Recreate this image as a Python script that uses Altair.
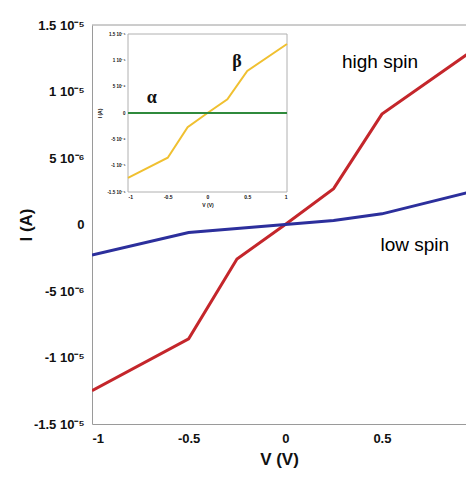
import altair as alt
import pandas as pd

# ---------------- data ----------------
V = [-1, -0.5, -0.25, 0, 0.25, 0.5, 1]
high_spin = [-1.25e-5, -0.86e-5, -0.26e-5, 0.0, 0.27e-5, 0.83e-5, 1.34e-5]
low_spin = [-0.23e-5, -0.06e-5, -0.03e-5, 0.0, 0.03e-5, 0.08e-5, 0.26e-5]

inset_beta = [-1.23e-5, -0.85e-5, -0.27e-5, 0.0, 0.26e-5, 0.80e-5, 1.31e-5]
inset_alpha = [0.0, 0.0, 0.0, 0.0, 0.0, 0.0, 0.0]

y_ticks = [-1.5e-5, -1e-5, -5e-6, 0, 5e-6, 1e-5, 1.5e-5]
y_tick_labels = ["-1.5 10⁻⁵", "-1 10⁻⁵", "-5 10⁻⁶", "0", "5 10⁻⁶", "1 10⁻⁵", "1.5 10⁻⁵"]
x_ticks = [-1, -0.5, 0, 0.5]
x_tick_labels = ["-1", "-0.5", "0", "0.5"]
inset_x_ticks = [-1, -0.5, 0, 0.5, 1]
inset_x_tick_labels = ["-1", "-0.5", "0", "0.5", "1"]

main_labels = ["high spin", "low spin"]
main_label_V = [0.49, 0.67]
main_label_I = [1.22e-5, -0.155e-5]

inset_labels = ["α", "β"]
inset_label_V = [-0.70, 0.37]
inset_label_I = [0.29e-5, 0.97e-5]

FONT = "Liberation Sans"


def label_expr(vals, labels, k):
    s = ""
    for v, l in zip(vals, labels):
        s += f"round(datum.value*{k})=={round(v * k)} ? '{l}' : "
    return s + "''"


y_expr = label_expr(y_ticks, y_tick_labels, 1e7)
x_expr = label_expr(x_ticks, x_tick_labels, 10)
ix_expr = label_expr(inset_x_ticks, inset_x_tick_labels, 10)

W, H = 374, 399
# the reference is cropped at its right edge, just short of V = 1
X_VISIBLE = [-1, 0.935]

# ---------------- main plot ----------------
main_df = pd.DataFrame({
    "V": V + V,
    "I": high_spin + low_spin,
    "series": ["high spin"] * len(V) + ["low spin"] * len(V),
})

mx = alt.X("V:Q", scale=alt.Scale(domain=X_VISIBLE, nice=False, zero=False),
           axis=alt.Axis(values=x_ticks, labelExpr=x_expr, title="V (V)",
                         titleY=35, titleBaseline="middle", titleFontSize=17))
my = alt.Y("I:Q", scale=alt.Scale(domain=[-1.5e-5, 1.5e-5], nice=False, zero=False),
           axis=alt.Axis(values=y_ticks, labelExpr=y_expr, title="I (A)",
                         titleX=-66, titleY=H / 2, titleBaseline="middle",
                         titleFontSize=17))

top_border = alt.Chart(pd.DataFrame({"I": [1.5e-5]})).mark_rule(
    color="#9a9a9a", strokeWidth=1
).encode(y=my)

main_lines = alt.Chart(main_df).mark_line(strokeWidth=3, clip=True).encode(
    x=mx, y=my,
    color=alt.Color("series:N", legend=None,
                    scale=alt.Scale(domain=["high spin", "low spin"],
                                    range=["#c4262b", "#2c2f9c"])),
)

main_text_df = pd.DataFrame({"V": main_label_V, "I": main_label_I, "label": main_labels})
main_text = alt.Chart(main_text_df).mark_text(
    font=FONT, fontSize=19, color="#000", align="center", baseline="middle"
).encode(x=mx, y=my, text="label:N")

main_layer = alt.layer(top_border, main_lines, main_text)

# ---------------- inset ----------------
inset_df = pd.DataFrame({
    "Vi": V + V,
    "Ii": inset_beta + inset_alpha,
    "phase": ["β"] * len(V) + ["α"] * len(V),
})

ix = alt.X("Vi:Q", scale=alt.Scale(domain=[-1, 1], range=[36, 195], nice=False, zero=False),
           axis=alt.Axis(orient="bottom", offset=-(H - 167), values=inset_x_ticks,
                         labelExpr=ix_expr, labelFontSize=5, labelPadding=2,
                         title="V (V)", titleFontSize=5, titlePadding=3,
                         domain=False))
iy = alt.Y("Ii:Q", scale=alt.Scale(domain=[-1.5e-5, 1.5e-5], range=[167, 9], nice=False, zero=False),
           axis=alt.Axis(orient="left", offset=-36, values=y_ticks, labelExpr=y_expr,
                         labelFontSize=4.5, labelPadding=3, title="I (A)",
                         titleFontSize=5, titlePadding=4, domain=False))

frame_df = pd.DataFrame({"Vi": [-1], "Vi2": [1], "Ii": [-1.5e-5], "Ii2": [1.5e-5]})
inset_frame = alt.Chart(frame_df).mark_rect(
    fill="white", stroke="#b0b0b0", strokeWidth=1
).encode(x=ix, x2="Vi2:Q", y=iy, y2="Ii2:Q")

inset_lines = alt.Chart(inset_df).mark_line(strokeWidth=2).encode(
    x=ix, y=iy,
    color=alt.Color("phase:N", legend=None,
                    scale=alt.Scale(domain=["β", "α"], range=["#f0c030", "#2f8a3c"])),
)

inset_text_df = pd.DataFrame({"Vi": inset_label_V, "Ii": inset_label_I, "label": inset_labels})
inset_text = alt.Chart(inset_text_df).mark_text(
    font="Liberation Serif", fontSize=18, fontWeight="bold", color="#111",
    align="center", baseline="middle"
).encode(x=ix, y=iy, text="label:N")

inset_layer = alt.layer(inset_frame, inset_lines, inset_text)

chart = alt.layer(main_layer, inset_layer).resolve_scale(
    x="independent", y="independent", color="independent"
).properties(
    width=W, height=H,
    autosize=alt.AutoSizeParams(type="none"),
    padding={"left": 84, "top": 17, "right": 0, "bottom": 46},
    background="white",
).configure_view(
    stroke=None
).configure_axis(
    grid=False, ticks=False, domainColor="#9a9a9a", domainWidth=1,
    labelFont=FONT, labelFontWeight="bold", labelColor="#111", labelFontSize=13,
    labelPadding=8, titleFont=FONT, titleFontWeight="bold", titleColor="#111",
)

chart.save("out.html", embed_options={"renderer": "svg", "actions": False})
